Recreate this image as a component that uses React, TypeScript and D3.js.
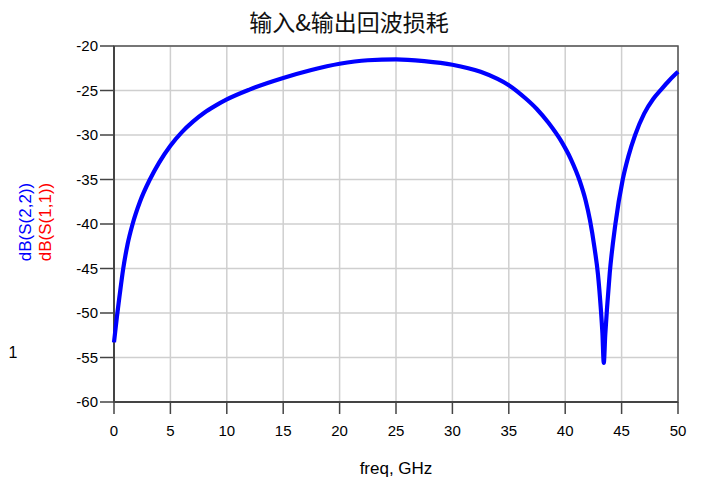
import React from "react";
import * as d3 from "d3";

const freq = [0, 0.25, 0.5, 0.82, 1.2, 1.65, 2.3, 3.18, 4, 5, 6, 7, 8, 9, 10, 12, 15, 17.5, 20, 22.5, 25, 27.5, 30, 32.5, 34, 35, 36.5, 37.5, 38.5, 39.7, 40.5, 41.3, 41.8, 42.2, 42.6, 42.9, 43.15, 43.3, 43.42, 43.55, 43.7, 43.95, 44.45, 45.1, 45.6, 46.2, 47, 47.8, 48.5, 49.2, 50];
const s22 = [-53.3, -50.5, -48.0, -45, -42.3, -40, -37.5, -35, -33.1, -31.2, -29.7, -28.5, -27.5, -26.7, -26.0, -24.9, -23.6, -22.7, -22.0, -21.6, -21.5, -21.7, -22.1, -22.9, -23.7, -24.4, -25.9, -27.1, -28.6, -30.8, -32.7, -35.2, -37.3, -39.6, -42.7, -45.6, -49.4, -52.3, -55.6, -52.5, -49.6, -45.5, -40, -35, -32.4, -30.0, -27.6, -25.95, -24.9, -23.9, -22.9];
const xTicks = [0, 5, 10, 15, 20, 25, 30, 35, 40, 45, 50];
const yTicks = [-20, -25, -30, -35, -40, -45, -50, -55, -60];

const W = 702, H = 479;
const L = 114, R = 678, T = 46, B = 402;

export default function App() {
  const x = d3.scaleLinear().domain([0, 50]).range([L, R]);
  const y = d3.scaleLinear().domain([-60, -20]).range([B, T]);
  const pts = freq.map((f, i) => [f, s22[i]] as [number, number]);
  const line = d3.line<[number, number]>().x(d => x(d[0])).y(d => y(d[1])).curve(d3.curveMonotoneX);
  const font = "Liberation Sans, Arial, sans-serif";
  return (
    <svg width={W} height={H} style={{ position: "absolute", left: 0, top: 0, background: "#fff" }}>
      <text x={349} y={31} textAnchor="middle" fontSize={23} fontFamily="'Noto Sans CJK SC', sans-serif" fill="#111">输入&amp;输出回波损耗</text>
      {xTicks.map(t => (
        <line key={"gx" + t} x1={x(t)} x2={x(t)} y1={T} y2={B} stroke="#cfcfcf" strokeWidth={1.5} />
      ))}
      {yTicks.map(t => (
        <line key={"gy" + t} x1={L} x2={R} y1={y(t)} y2={y(t)} stroke="#cfcfcf" strokeWidth={1.5} />
      ))}
      <rect x={L} y={T} width={R - L} height={B - T} fill="none" stroke="#555" strokeWidth={1.5} />
      <line x1={L} x2={L} y1={T} y2={B} stroke="#444" strokeWidth={2} />
      <line x1={L} x2={R} y1={B} y2={B} stroke="#444" strokeWidth={2} />
      {yTicks.map(t => (
        <g key={"ty" + t}>
          <line x1={L - 14} x2={L} y1={y(t)} y2={y(t)} stroke="#444" strokeWidth={1.5} />
          <text x={L - 16} y={y(t) + 5} textAnchor="end" fontSize={15} fontFamily={font} fill="#000">{t}</text>
        </g>
      ))}
      {xTicks.map(t => (
        <g key={"tx" + t}>
          <line x1={x(t)} x2={x(t)} y1={B} y2={B + 12} stroke="#444" strokeWidth={1.5} />
          <text x={x(t)} y={B + 34} textAnchor="middle" fontSize={15} fontFamily={font} fill="#000">{t}</text>
        </g>
      ))}
      <path d={line(pts) || ""} fill="none" stroke="#0000ff" strokeWidth={4.2} strokeLinejoin="round" />
      <text transform={`translate(31,222) rotate(-90)`} textAnchor="middle" fontSize={17} fontFamily={font} fill="#0000ff">dB(S(2,2))</text>
      <text transform={`translate(51,222) rotate(-90)`} textAnchor="middle" fontSize={17} fontFamily={font} fill="#ff0000">dB(S(1,1))</text>
      <text x={13} y={358} textAnchor="middle" fontSize={16} fontFamily={font} fill="#000">1</text>
      <text x={396} y={474} textAnchor="middle" fontSize={17} fontFamily={font} fill="#000">freq, GHz</text>
    </svg>
  );
}
